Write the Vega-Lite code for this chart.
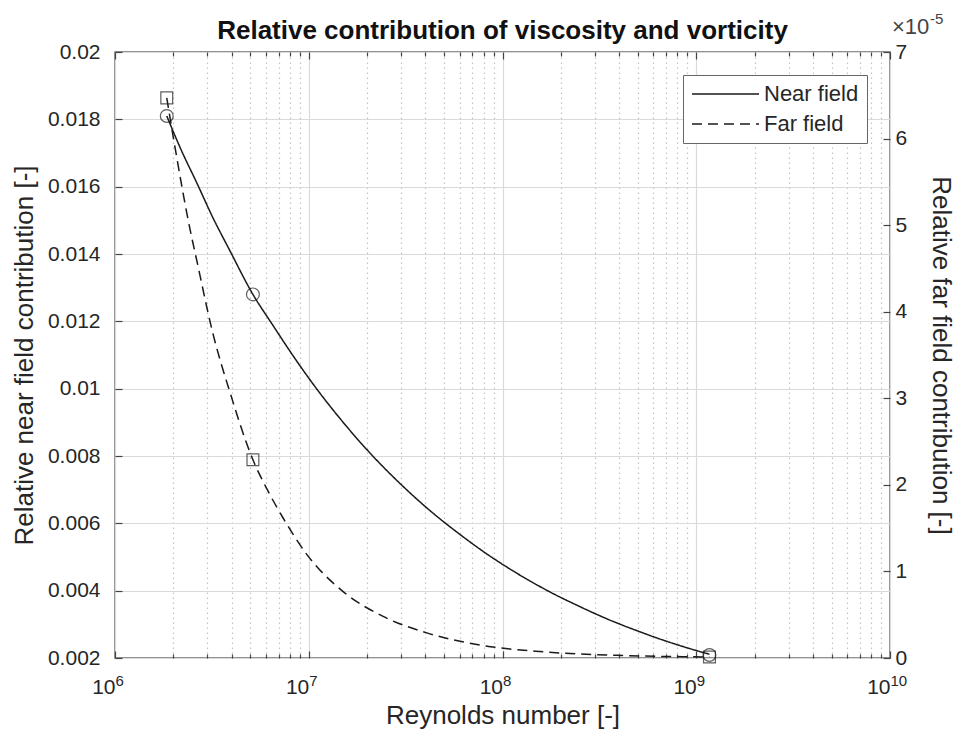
{
  "$schema": "https://vega.github.io/schema/vega-lite/v6.json",
  "width": 775,
  "height": 606,
  "autosize": "none",
  "padding": {"left": 115, "top": 52, "right": 67, "bottom": 84},
  "background": "white",
  "title": {"text": "Relative contribution of viscosity and vorticity", "fontSize": 26, "fontWeight": "bold", "font": "Liberation Sans", "color": "#111111", "offset": -32, "anchor": "middle", "frame": "group"},
  "config": {
    "font": "Liberation Sans",
    "view": {"stroke": "#6e6e6e", "strokeWidth": 1.5},
    "axis": {"domain": false, "labelColor": "#262626", "titleColor": "#262626", "labelFontSize": 21, "titleFontSize": 26, "titleFontWeight": "normal", "tickColor": "#444444", "tickWidth": 1.2, "gridColor": "#dadada", "gridWidth": 1.2, "labelFlush": false, "labelOverlap": false},
    "legend": {"symbolType": "M-1,0H5.7", "symbolSize": 400, "symbolStrokeWidth": 1.5, "labelFontSize": 22, "labelColor": "#262626", "strokeColor": "#666666", "fillColor": "white", "padding": 8, "rowPadding": 8, "labelOffset": 51}
  },
  "datasets": {
    "near_curve": [
      {"re": 1850000, "v": 0.0181, "series": "Near field"},
      {"re": 2200000, "v": 0.01708, "series": "Near field"},
      {"re": 2650000, "v": 0.0161, "series": "Near field"},
      {"re": 3200000, "v": 0.01508, "series": "Near field"},
      {"re": 3900000, "v": 0.01412, "series": "Near field"},
      {"re": 5150000, "v": 0.0128, "series": "Near field"},
      {"re": 6500000, "v": 0.0119, "series": "Near field"},
      {"re": 8500000, "v": 0.01089, "series": "Near field"},
      {"re": 11000000, "v": 0.00999, "series": "Near field"},
      {"re": 15000000, "v": 0.00901, "series": "Near field"},
      {"re": 21000000, "v": 0.00805, "series": "Near field"},
      {"re": 30000000, "v": 0.00715, "series": "Near field"},
      {"re": 42000000, "v": 0.00639, "series": "Near field"},
      {"re": 60000000, "v": 0.00568, "series": "Near field"},
      {"re": 85000000, "v": 0.00505, "series": "Near field"},
      {"re": 120000000, "v": 0.0045, "series": "Near field"},
      {"re": 176000000, "v": 0.00396, "series": "Near field"},
      {"re": 250000000, "v": 0.00353, "series": "Near field"},
      {"re": 350000000, "v": 0.00315, "series": "Near field"},
      {"re": 500000000, "v": 0.0028, "series": "Near field"},
      {"re": 700000000, "v": 0.0025, "series": "Near field"},
      {"re": 900000000, "v": 0.0023, "series": "Near field"},
      {"re": 1170000000, "v": 0.00211, "series": "Near field"}
    ],
    "near_pts": [
      {"re": 1850000, "v": 0.0181},
      {"re": 5150000, "v": 0.0128},
      {"re": 1170000000, "v": 0.00209}
    ],
    "far_curve": [
      {"re": 1850000, "v": 6.47e-5, "series": "Far field"},
      {"re": 2040000, "v": 5.9e-5, "series": "Far field"},
      {"re": 2440000, "v": 4.95e-5, "series": "Far field"},
      {"re": 2650000, "v": 4.58e-5, "series": "Far field"},
      {"re": 3200000, "v": 3.75e-5, "series": "Far field"},
      {"re": 3920000, "v": 3.07e-5, "series": "Far field"},
      {"re": 5150000, "v": 2.29e-5, "series": "Far field"},
      {"re": 6090000, "v": 1.95e-5, "series": "Far field"},
      {"re": 7360000, "v": 1.62e-5, "series": "Far field"},
      {"re": 9900000, "v": 1.18e-5, "series": "Far field"},
      {"re": 15000000, "v": 0.77e-5, "series": "Far field"},
      {"re": 24200000, "v": 0.48e-5, "series": "Far field"},
      {"re": 40700000, "v": 0.29e-5, "series": "Far field"},
      {"re": 79000000, "v": 0.145e-5, "series": "Far field"},
      {"re": 156000000, "v": 0.074e-5, "series": "Far field"},
      {"re": 390000000, "v": 0.031e-5, "series": "Far field"},
      {"re": 1170000000, "v": 0.012e-5, "series": "Far field"}
    ],
    "far_pts": [
      {"re": 1850000, "v": 6.47e-5},
      {"re": 5150000, "v": 2.29e-5},
      {"re": 1170000000, "v": 0.012e-5}
    ],
    "exponent": [
      {"re": 10000000000, "v": 7e-5, "base": "×10", "exp": "-5"}
    ]
  },
  "layer": [
    {
      "data": {"name": "near_curve"},
      "mark": {"type": "line", "color": "#1a1a1a", "strokeWidth": 1.5, "interpolate": "monotone"},
      "encoding": {
        "x": {"field": "re", "type": "quantitative", "scale": {"type": "log", "domain": [1000000, 10000000000], "nice": false},
          "axis": {"orient": "bottom", "values": [1000000, 10000000, 100000000, 1000000000, 10000000000], "labelExpr": "'10'", "labelAlign": "right", "labelDx": 6, "labelPadding": 25, "tickSize": -7, "grid": true, "title": "Reynolds number [-]", "titlePadding": 5}},
        "y": {"field": "v", "type": "quantitative", "scale": {"domain": [0.002, 0.02], "nice": false, "zero": false},
          "axis": {"orient": "left", "values": [0.002, 0.004, 0.006, 0.008, 0.01, 0.012, 0.014, 0.016, 0.018, 0.02], "format": "~g", "tickSize": -7, "labelPadding": 22, "grid": true, "title": "Relative near field contribution [-]", "titlePadding": 10}},
        "strokeDash": {"field": "series", "type": "nominal", "scale": {"domain": ["Near field", "Far field"], "range": [[1, 0], [10, 6]]},
          "legend": {"orient": "top-right", "offset": 23, "title": null}}
      }
    },
    {
      "data": {"name": "near_pts"},
      "mark": {"type": "point", "shape": "circle", "filled": false, "size": 165, "stroke": "#1a1a1a", "strokeWidth": 1.2},
      "encoding": {
        "x": {"field": "re", "type": "quantitative", "scale": {"type": "log", "domain": [1000000, 10000000000], "nice": false},
          "axis": {"orient": "bottom", "values": [2000000, 3000000, 4000000, 5000000, 6000000, 7000000, 8000000, 9000000, 20000000, 30000000, 40000000, 50000000, 60000000, 70000000, 80000000, 90000000, 200000000, 300000000, 400000000, 500000000, 600000000, 700000000, 800000000, 900000000, 2000000000, 3000000000, 4000000000, 5000000000, 6000000000, 7000000000, 8000000000, 9000000000], "labels": false, "tickSize": -4, "grid": true, "gridDash": [1.5, 3.5], "gridColor": "#c4c4c4", "title": null}},
        "y": {"field": "v", "type": "quantitative", "scale": {"domain": [0.002, 0.02], "nice": false, "zero": false}, "axis": null}
      }
    },
    {
      "data": {"name": "far_curve"},
      "mark": {"type": "line", "color": "#1a1a1a", "strokeWidth": 1.5, "interpolate": "monotone"},
      "encoding": {
        "x": {"field": "re", "type": "quantitative", "scale": {"type": "log", "domain": [1000000, 10000000000], "nice": false},
          "axis": {"orient": "top", "values": [1000000, 10000000, 100000000, 1000000000, 10000000000], "labels": false, "tickSize": -7, "grid": false, "title": null}},
        "y": {"field": "v", "type": "quantitative", "scale": {"domain": [0, 7e-5], "nice": false, "zero": false},
          "axis": {"orient": "right", "values": [0, 1e-5, 2e-5, 3e-5, 4e-5, 5e-5, 6e-5, 7e-5], "labelExpr": "'' + round(datum.value * 100000)", "tickSize": -7, "labelPadding": 12, "grid": false, "title": "Relative far field contribution [-]", "titlePadding": 21}},
        "strokeDash": {"field": "series", "type": "nominal", "scale": {"domain": ["Near field", "Far field"], "range": [[1, 0], [10, 6]]}, "legend": null}
      }
    },
    {
      "data": {"name": "far_pts"},
      "mark": {"type": "point", "shape": "square", "filled": false, "size": 140, "stroke": "#1a1a1a", "strokeWidth": 1.2},
      "encoding": {
        "x": {"field": "re", "type": "quantitative", "scale": {"type": "log", "domain": [1000000, 10000000000], "nice": false},
          "axis": {"orient": "top", "values": [2000000, 3000000, 4000000, 5000000, 6000000, 7000000, 8000000, 9000000, 20000000, 30000000, 40000000, 50000000, 60000000, 70000000, 80000000, 90000000, 200000000, 300000000, 400000000, 500000000, 600000000, 700000000, 800000000, 900000000, 2000000000, 3000000000, 4000000000, 5000000000, 6000000000, 7000000000, 8000000000, 9000000000], "labels": false, "tickSize": -4, "grid": false, "title": null}},
        "y": {"field": "v", "type": "quantitative", "scale": {"domain": [0, 7e-5], "nice": false, "zero": false}, "axis": null}
      }
    },
    {
      "data": {"name": "exponent"},
      "mark": {"type": "text", "align": "left", "baseline": "alphabetic", "dx": 2, "dy": -18, "fontSize": 22, "color": "#444444"},
      "encoding": {
        "x": {"field": "re", "type": "quantitative", "scale": {"type": "log", "domain": [1000000, 10000000000], "nice": false},
          "axis": {"orient": "bottom", "values": [1000000, 10000000, 100000000, 1000000000, 10000000000], "labelExpr": "'' + round(log(datum.value) / LN10)", "labelAlign": "left", "labelDx": 6, "labelFontSize": 15, "labelPadding": 15, "ticks": false, "grid": false, "title": null}},
        "y": {"field": "v", "type": "quantitative", "scale": {"domain": [0, 7e-5], "nice": false, "zero": false}, "axis": null},
        "text": {"field": "base"}
      }
    },
    {
      "data": {"name": "exponent"},
      "mark": {"type": "text", "align": "left", "baseline": "alphabetic", "dx": 40, "dy": -28, "fontSize": 15, "color": "#444444"},
      "encoding": {
        "x": {"field": "re", "type": "quantitative", "axis": null},
        "y": {"field": "v", "type": "quantitative", "scale": {"domain": [0, 7e-5], "nice": false, "zero": false}, "axis": null},
        "text": {"field": "exp"}
      }
    }
  ],
  "resolve": {"scale": {"y": "independent"}, "axis": {"x": "independent", "y": "independent"}}
}
